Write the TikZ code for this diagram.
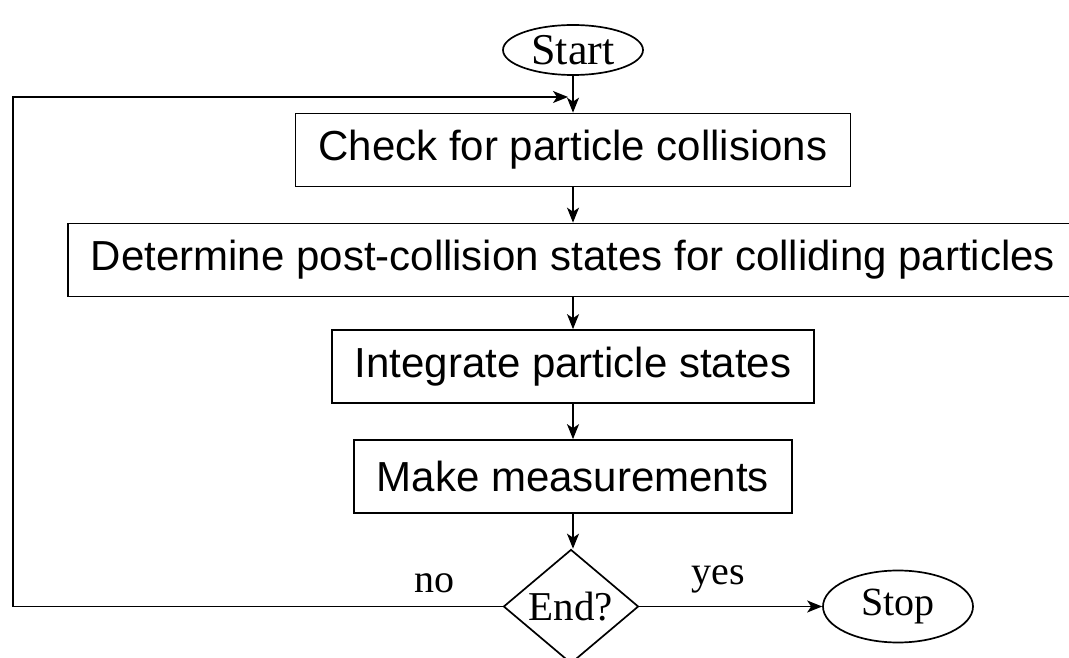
\documentclass[tikz,border=0pt]{standalone}
\usepackage{fontspec}
\setmainfont{Liberation Serif}
\setsansfont{Liberation Sans}
\usetikzlibrary{shapes.geometric,arrows.meta,positioning}

\begin{document}
\begin{tikzpicture}[x=1pt,y=1pt,on grid,line width=1.7pt,
    >={Stealth[length=15pt,width=12pt,inset=4pt]},
    process/.style={draw,rectangle,inner xsep=23pt,minimum height=73pt,
        font=\sffamily\fontsize{42}{50}\selectfont},
    terminal/.style={draw,ellipse,inner sep=0pt,font=\fontsize{40}{48}\selectfont},
    decision/.style={draw,diamond,inner sep=0pt,minimum width=135pt,minimum height=114pt,
        font=\fontsize{41}{48}\selectfont},
    answer/.style={font=\fontsize{40}{48}\selectfont,inner sep=13pt}]
            \useasboundingbox (0,0) rectangle (1069,657);
            \clip (0,0) rectangle (1069,657);
            \node[terminal, minimum width=140pt, minimum height=50pt,
                font=\fontsize{44}{50}\selectfont] (start) at (573,607) {Start};
            \node[process] (check) [below=100pt of start] {Check for particle collisions};
            \node[process] (determine) [below=110pt of check] {Determine post-collision states for colliding particles};
            \node[process] (integrate) [below=106.5pt of determine] {Integrate particle states};
            \node[process] (measure) [below=110pt of integrate] {Make measurements};
            \node[decision] (end) [below=130pt of measure, xshift=-2pt] {End?};
            \node[terminal, minimum width=150pt, minimum height=72pt] (stop) [right=327pt of end] {Stop};
            \coordinate (join) at (573,560);
            \coordinate (back) at (13,560);

            \path[->]
                (start) edge (check)
                (check) edge (determine)
                (determine) edge (integrate)
                (integrate) edge (measure)
                (measure) edge (measure.south |- end.north)
                (end) edge node[answer, above, pos=0.43] {yes} (stop);
            % loop back to the top
            \draw[->, shorten >=5pt] (end.west) -- node[answer, above, pos=0.14] {no} (end.west -| back)
                -- (back) -- (join);
        \end{tikzpicture}
\end{document}
